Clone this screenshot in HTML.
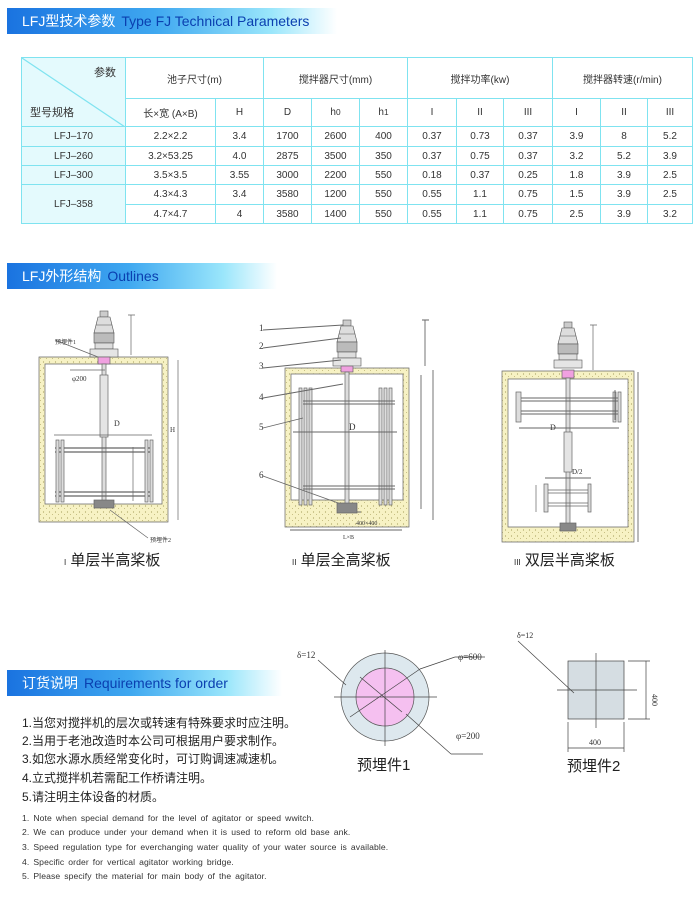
<!DOCTYPE html>
<html><head><meta charset="utf-8"><style>
body{margin:0;background:#fff;width:700px;height:899px;overflow:hidden;position:relative;font-family:"Liberation Sans","Noto Sans CJK SC",sans-serif}
.ban{position:absolute;left:7px;height:26px;width:270px;background:linear-gradient(90deg,#1a73e0 0%,#3fa8f0 45%,#9ae6fb 80%,rgba(255,255,255,0) 100%);font-size:14px;line-height:26px;color:#fff;padding-left:15px;box-sizing:border-box;white-space:nowrap}
.ban b{font-weight:normal;color:#0a3fb0;margin-left:6px}
table{position:absolute;left:21px;top:57px;border-collapse:collapse;font-size:10px;color:#333}
td{border:1.5px solid #7fe3f0;text-align:center;padding:0}
.c{background:#e4fafd}
.cn{font-size:12px;color:#222;position:absolute;left:22px}
.en{font-size:8.6px;color:#333;position:absolute;left:22px;letter-spacing:.1px;word-spacing:1.5px}
</style></head><body>
<div class="ban" style="top:8px;width:330px">LFJ型技术参数<b>Type FJ Technical Parameters</b></div>
<table>
<tr style="height:41px"><td rowspan="2" style="width:103px;position:relative" class="c"><svg width="103" height="69" style="position:absolute;left:0;top:0"><line x1="0" y1="0" x2="103" y2="69" stroke="#7fe3f0" stroke-width="1.2"/><text x="72" y="18" font-size="11" fill="#333">参数</text><text x="8" y="58" font-size="11" fill="#333">型号规格</text></svg></td>
<td colspan="2">池子尺寸(m)</td><td colspan="3">搅拌器尺寸(mm)</td><td colspan="3">搅拌功率(kw)</td><td colspan="3">搅拌器转速(r/min)</td></tr>
<tr style="height:28px"><td style="width:89px">长×宽 (A×B)</td><td style="width:47px">H</td><td style="width:47px">D</td><td style="width:47px">h<small>0</small></td><td style="width:47px">h<small>1</small></td><td style="width:48px">I</td><td style="width:46px">II</td><td style="width:48px">III</td><td style="width:47px">I</td><td style="width:46px">II</td><td style="width:44px">III</td></tr>
<tr style="height:20px"><td class="c">LFJ–170</td><td>2.2×2.2</td><td>3.4</td><td>1700</td><td>2600</td><td>400</td><td>0.37</td><td>0.73</td><td>0.37</td><td>3.9</td><td>8</td><td>5.2</td></tr>
<tr style="height:19px"><td class="c">LFJ–260</td><td>3.2×53.25</td><td>4.0</td><td>2875</td><td>3500</td><td>350</td><td>0.37</td><td>0.75</td><td>0.37</td><td>3.2</td><td>5.2</td><td>3.9</td></tr>
<tr style="height:19px"><td class="c">LFJ–300</td><td>3.5×3.5</td><td>3.55</td><td>3000</td><td>2200</td><td>550</td><td>0.18</td><td>0.37</td><td>0.25</td><td>1.8</td><td>3.9</td><td>2.5</td></tr>
<tr style="height:20px"><td class="c" rowspan="2">LFJ–358</td><td>4.3×4.3</td><td>3.4</td><td>3580</td><td>1200</td><td>550</td><td>0.55</td><td>1.1</td><td>0.75</td><td>1.5</td><td>3.9</td><td>2.5</td></tr>
<tr style="height:19px"><td>4.7×4.7</td><td>4</td><td>3580</td><td>1400</td><td>550</td><td>0.55</td><td>1.1</td><td>0.75</td><td>2.5</td><td>3.9</td><td>3.2</td></tr>
</table>
<div class="ban" style="top:263px;width:270px">LFJ外形结构<b>Outlines</b></div>
<div class="ban" style="top:670px;width:275px">订货说明<b>Requirements for order</b></div>

<svg width="700" height="899" style="position:absolute;left:0;top:0" font-family="Liberation Serif,serif">
<defs><pattern id="d" width="6" height="6" patternUnits="userSpaceOnUse"><rect width="6" height="6" fill="#f7f2c4"/><circle cx="1.5" cy="2" r=".6" fill="#a9a060"/><circle cx="4.5" cy="4.5" r=".5" fill="#b8b070"/></pattern>
<g id="motor"><rect x="-4" y="0" width="8" height="6" fill="#ccc" stroke="#555" stroke-width=".6"/><path d="M-6 6h12l2 8h-16z M-8 14h16l2 8h-20z" fill="#ddd" stroke="#555" stroke-width=".6"/><rect x="-10" y="22" width="20" height="10" fill="#bbb" stroke="#555" stroke-width=".6"/><rect x="-9" y="32" width="18" height="6" fill="#ddd" stroke="#555" stroke-width=".6"/><rect x="-14" y="38" width="28" height="8" fill="#e5e5e5" stroke="#555" stroke-width=".6"/></g></defs>
<g stroke="#666" stroke-width=".7" fill="none">
<path d="M39 357h129v165h-129z M45 364h117v140h-117z" fill="url(#d)" fill-rule="evenodd"/>
<use href="#motor" x="104" y="311"/>
<rect x="98" y="357" width="12" height="7" fill="#f0a0e0"/>
<rect x="102" y="364" width="4" height="140" fill="#ddd"/>
<rect x="100" y="375" width="8" height="62" fill="#e4e4e4"/>
<path d="M55 448h98M55 452h98M55 492h98M55 496h98" stroke-width="1.2"/>
<rect x="56" y="440" width="3" height="62" fill="#ddd"/><rect x="61" y="440" width="3" height="62" fill="#ddd"/>
<rect x="145" y="440" width="3" height="62" fill="#ddd"/><rect x="150" y="440" width="3" height="62" fill="#ddd"/>
<rect x="94" y="500" width="20" height="8" fill="#888"/>
<path d="M54 435h98M133 447v54M128 315h7M131 315v40M178 360v160M55 340l43 17M110 510l38 28M70 370h35"/>
<path d="M285 368h124v159h-124z M291 374h112v126h-112z" fill="url(#d)" fill-rule="evenodd"/>
<use href="#motor" x="347" y="320"/>
<rect x="341" y="366" width="12" height="6" fill="#f0a0e0"/>
<rect x="345" y="372" width="4" height="132" fill="#ddd"/>
<g fill="#ddd"><rect x="299" y="388" width="3" height="117"/><rect x="304" y="388" width="3" height="117"/><rect x="309" y="388" width="3" height="117"/><rect x="379" y="388" width="3" height="117"/><rect x="384" y="388" width="3" height="117"/><rect x="389" y="388" width="3" height="117"/></g>
<path d="M303 401h92M303 404h92M303 486h92M303 489h92M293 432h104M421 375v134M433 370v150M290 530h112M337 512h24M263 330l80 -5M263 348l78 -10M263 368l78 -8M263 398l80 -14M263 428l40 -10M263 476l78 28M422 320h7M425 320v46" stroke-width=".9"/>
<rect x="337" y="503" width="20" height="10" fill="#888"/>
<g fill="#333" stroke="none" font-size="9"><text x="259" y="331">1</text><text x="259" y="349">2</text><text x="259" y="369">3</text><text x="259" y="400">4</text><text x="259" y="430">5</text><text x="259" y="478">6</text><text x="349" y="430">D</text><text x="343" y="539" font-size="6">L×B</text><text x="356" y="525" font-size="6">400×400</text></g>
<path d="M502 371h132v171h-132z M508 379h120v148h-120z" fill="url(#d)" fill-rule="evenodd"/>
<use href="#motor" x="568" y="322"/>
<rect x="562" y="370" width="12" height="8" fill="#f0a0e0"/>
<rect x="566" y="378" width="4" height="150" fill="#ddd"/>
<rect x="564" y="432" width="8" height="40" fill="#e4e4e4"/>
<rect x="516" y="392" width="5" height="30" fill="#ddd"/><rect x="613" y="392" width="3" height="30" fill="#ddd"/><rect x="618" y="392" width="3" height="30" fill="#ddd"/>
<path d="M521 398h97M521 401h97M521 411h97M521 414h97M519 428h100M545 478h46M615 390v30M638 372v170" stroke-width=".9"/>
<rect x="544" y="484" width="4" height="28" fill="#ddd"/><rect x="588" y="484" width="3" height="28" fill="#ddd"/>
<path d="M548 490h40M548 493h40M548 503h40M548 506h40M536 485v27M590 325h7M593 325v45"/>
<rect x="560" y="523" width="16" height="8" fill="#888"/>
<g fill="#333" stroke="none" font-size="7"><text x="114" y="426" font-size="8">D</text><text x="550" y="430" font-size="8">D</text><text x="572" y="474">D/2</text><text x="72" y="381">φ200</text><text x="55" y="344" font-size="6">预埋件1</text><text x="150" y="542" font-size="6">预埋件2</text><text x="170" y="432">H</text></g>
<circle cx="385" cy="697" r="44" fill="#dde8ee" stroke="#555"/>
<circle cx="385" cy="697" r="29" fill="#f5c0f0" stroke="#555"/>
<path d="M334 697h103M385 650v96M318 660l28 25M350 717l70 -48M360 677l42 35M406 714l45 40M420 669l35 -12M455 657h30M451 754h32" stroke="#444"/>
<g fill="#333" stroke="none" font-size="9"><text x="297" y="658">δ=12</text><text x="458" y="660">φ=600</text><text x="456" y="739">φ=200</text></g>
<rect x="568" y="661" width="56" height="58" fill="#d5dde2" stroke="#444"/>
<path d="M596 653v75M557 690h80M518 641l56 52M628 661h22M628 719h22M646 661v58M568 722v30M624 722v30M568 748h56" stroke="#444"/>
<g fill="#333" stroke="none" font-size="8"><text x="517" y="638">δ=12</text><text x="589" y="745">400</text><text x="652" y="694" transform="rotate(90 652 694)">400</text></g>
</g>
<g font-family="Liberation Sans,Noto Sans CJK SC,sans-serif" fill="#222" font-size="15">
<text x="64" y="565"><tspan font-size="8">I</tspan> 单层半高桨板</text>
<text x="292" y="565"><tspan font-size="8">II</tspan> 单层全高桨板</text>
<text x="514" y="565"><tspan font-size="8">III</tspan> 双层半高桨板</text>
<text x="357" y="770">预埋件1</text>
<text x="567" y="771">预埋件2</text>
</g>
</svg>
<div class="cn" style="top:714px">1.当您对搅拌机的层次或转速有特殊要求时应注明。</div>
<div class="cn" style="top:732px">2.当用于老池改造时本公司可根据用户要求制作。</div>
<div class="cn" style="top:750px">3.如您水源水质经常变化时，可订购调速减速机。</div>
<div class="cn" style="top:769px">4.立式搅拌机若需配工作桥请注明。</div>
<div class="cn" style="top:788px">5.请注明主体设备的材质。</div>
<div class="en" style="top:813px">1. Note when special demand for the level of agitator or speed wwitch.</div>
<div class="en" style="top:827px">2. We can produce under your demand when it is used to reform old base ank.</div>
<div class="en" style="top:842px">3. Speed regulation type for everchanging water quality of your water source is available.</div>
<div class="en" style="top:857px">4. Specific order for vertical agitator working bridge.</div>
<div class="en" style="top:871px">5. Please specify the material for main body of the agitator.</div>
</body></html>
